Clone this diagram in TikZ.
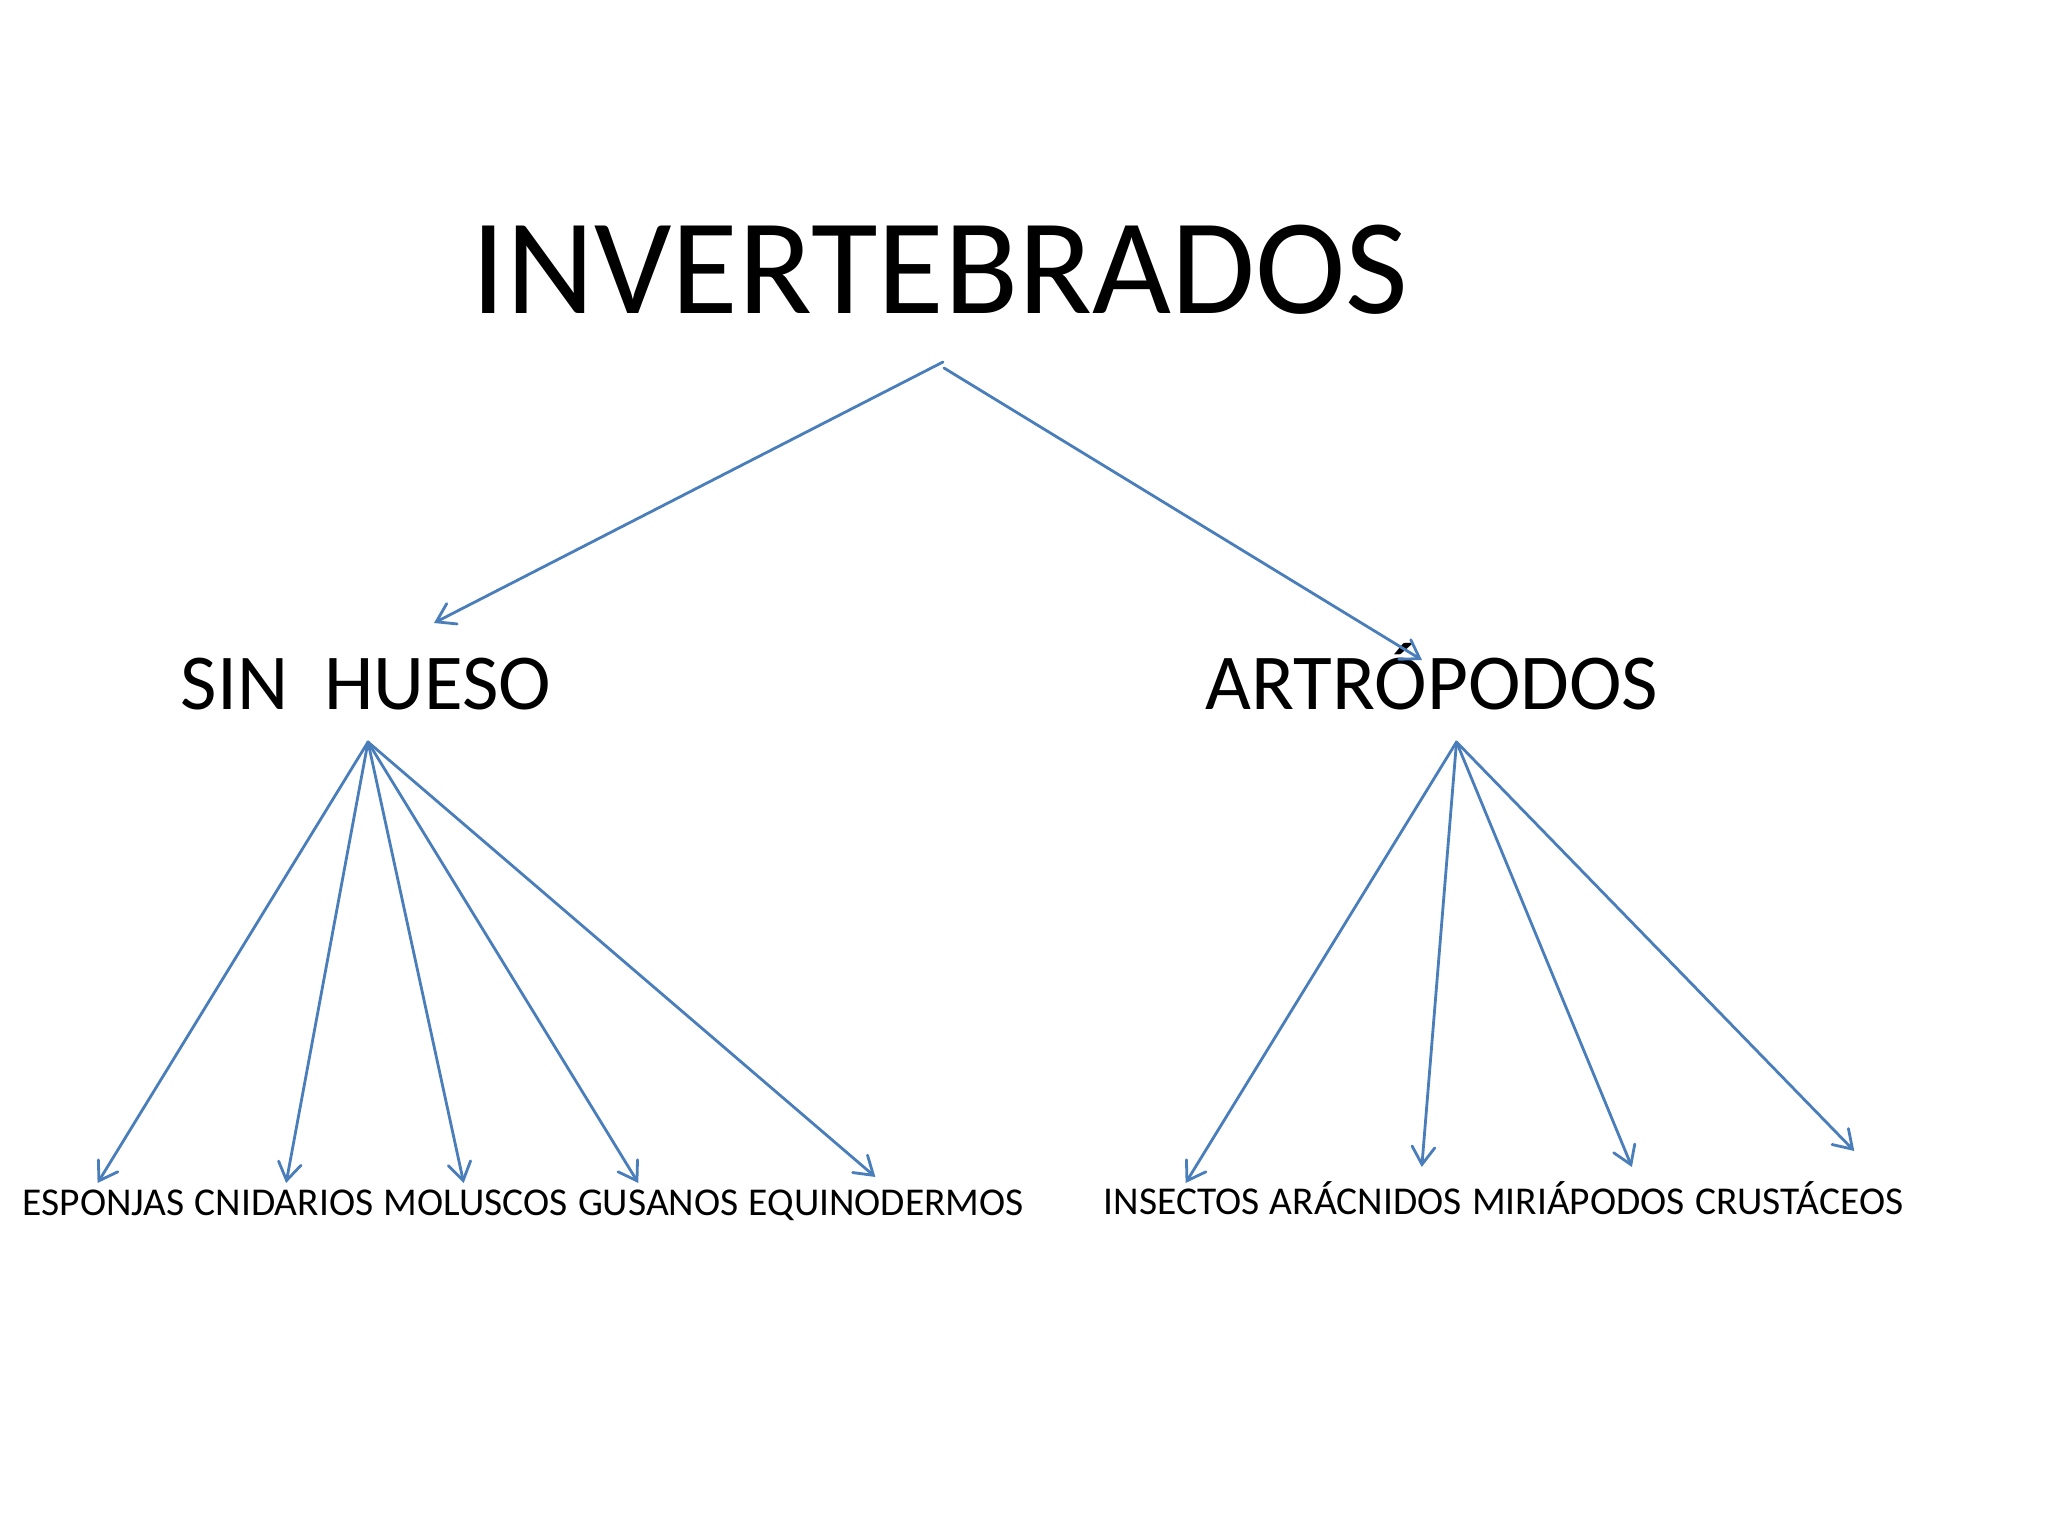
\documentclass[tikz,border=0pt]{standalone}
\usepackage{fontspec}
\setmainfont{Carlito}
\usepackage{tikz}
\usetikzlibrary{arrows.meta, positioning}
\definecolor{linkblue}{HTML}{4A7EBB}

\begin{document}
\begin{tikzpicture}[
  arr/.style={draw=linkblue, line width=0.8pt, line join=round, line cap=round,
    -{Straight Barb[length=5pt, width=6.5pt, line cap=round]}},
  lbl/.style={inner sep=0pt, anchor=base},
  leaf/.style={inner sep=0pt, font=\fontsize{11.22}{13}\selectfont}
]
\useasboundingbox (0,0) rectangle (20.48,-15.36);

% Title
\node[lbl, font=\fontsize{38.8}{46}\selectfont] (inv) at (9.40,-3.14) {INVERTEBRADOS};

% Groups
\node[lbl, font=\fontsize{22.55}{27}\selectfont] (sin) at (3.66,-7.09) {SIN\ \ HUESO};
\node[lbl, font=\fontsize{22.55}{27}\selectfont] (art) at (14.32,-7.09) {ARTRÓPODOS};

% Leaves, left row
\node[leaf, anchor=base west] (esp) at (0.22,-12.15) {ESPONJAS};
\node[leaf, base right=0.09cm of esp] (cni) {CNIDARIOS};
\node[leaf, base right=0.09cm of cni] (mol) {MOLUSCOS};
\node[leaf, base right=0.09cm of mol] (gus) {GUSANOS};
\node[leaf, base right=0.09cm of gus] (equ) {EQUINODERMOS};

% Leaves, right row
\node[leaf, anchor=base west] (ins) at (11.03,-12.14) {INSECTOS};
\node[leaf, base right=0.09cm of ins] (ara) {ARÁCNIDOS};
\node[leaf, base right=0.09cm of ara] (mir) {MIRIÁPODOS};
\node[leaf, base right=0.09cm of mir] (cru) {CRUSTÁCEOS};

% Title to groups
\draw[arr] ([shift={(0.03,-0.48)}]inv.base) -- ([shift={(0.68,0.86)}]sin.base);
\draw[arr] ([shift={(0.04,-0.54)}]inv.base) -- ([shift={(-0.10,0.49)}]art.base);

% Groups to leaves
\foreach \n/\dx/\dy in {esp/-0.06/0.32, cni/0.02/0.32, mol/-0.12/0.32, gus/-0.20/0.32, equ/-0.11/0.38}
  \draw[arr] ([shift={(0.02,-0.33)}]sin.base) -- ([shift={(\dx,\dy)}]\n.base);
\foreach \n/\dx/\dy in {ins/0.04/0.31, ara/0.56/0.47, mir/0.535/0.47, cru/0.55/0.63}
  \draw[arr] ([shift={(0.245,-0.33)}]art.base) -- ([shift={(\dx,\dy)}]\n.base);

\end{tikzpicture}
\end{document}
